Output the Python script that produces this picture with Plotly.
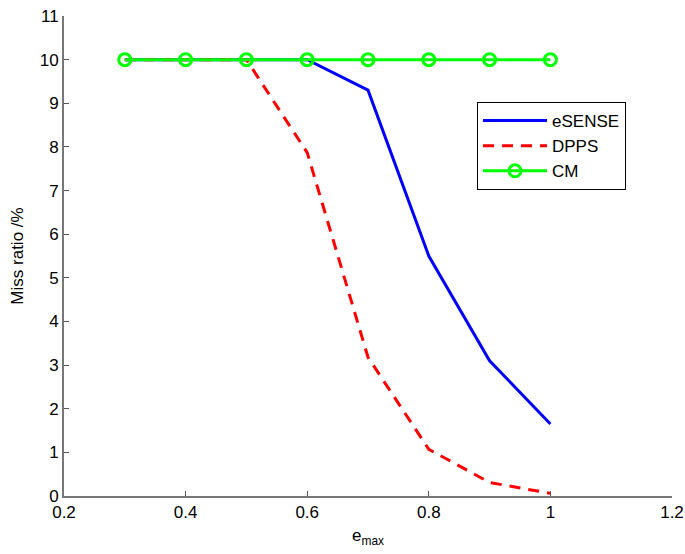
import plotly.graph_objects as go

x_vals = [0.3, 0.4, 0.5, 0.6, 0.7, 0.8, 0.9, 1.0]
esense = [10, 10, 10, 10, 9.3, 5.5, 3.1, 1.65]
dpps = [10, 10, 10, 7.87, 3.18, 1.07, 0.31, 0.06]
cm = [10, 10, 10, 10, 10, 10, 10, 10]
x_ticks = [0.2, 0.4, 0.6, 0.8, 1, 1.2]
y_ticks = list(range(0, 12))

font = "Liberation Sans, Arial, sans-serif"
fig = go.Figure()
fig.add_trace(go.Scatter(x=x_vals, y=esense, name="eSENSE", mode="lines",
                         line=dict(color="#0000ff", width=3)))
fig.add_trace(go.Scatter(x=x_vals, y=dpps, name="DPPS", mode="lines",
                         line=dict(color="#ff0000", width=3, dash="11px,8px")))
fig.add_trace(go.Scatter(x=x_vals, y=cm, name="CM", mode="lines+markers",
                         line=dict(color="#00ff00", width=3),
                         marker=dict(symbol="circle-open", size=12, color="#00ff00",
                                     line=dict(width=3, color="#00ff00"))))

fig.update_layout(
    width=685, height=554,
    margin=dict(l=64, r=13, t=16, b=58, autoexpand=False),
    plot_bgcolor="white", paper_bgcolor="white",
    font=dict(family=font, size=17, color="black"),
    showlegend=True,
    legend=dict(x=(477 - 64) / 608, y=(496 - 102) / 480, xanchor="left", yanchor="top",
                bordercolor="black", borderwidth=1, bgcolor="white",
                font=dict(size=17), tracegroupgap=0, itemwidth=64),
)
fig.update_xaxes(range=[0.2, 1.2], tickvals=x_ticks, ticktext=["0.2", "0.4", "0.6", "0.8", "1", "1.2"],
                 ticks="inside", ticklen=5, tickcolor="#555", showline=True, linecolor="#777",
                 linewidth=2, showgrid=False, zeroline=False,
                 title=dict(text="e<sub>max</sub>", standoff=8, font=dict(size=17)))
fig.update_yaxes(range=[0, 11], tickvals=y_ticks, ticks="inside", ticklen=5, tickcolor="#555",
                 showline=True, linecolor="#777", linewidth=2, showgrid=False, zeroline=False,
                 title=dict(text="Miss ratio /%", standoff=12, font=dict(size=17)))
fig.write_html("out.html")
